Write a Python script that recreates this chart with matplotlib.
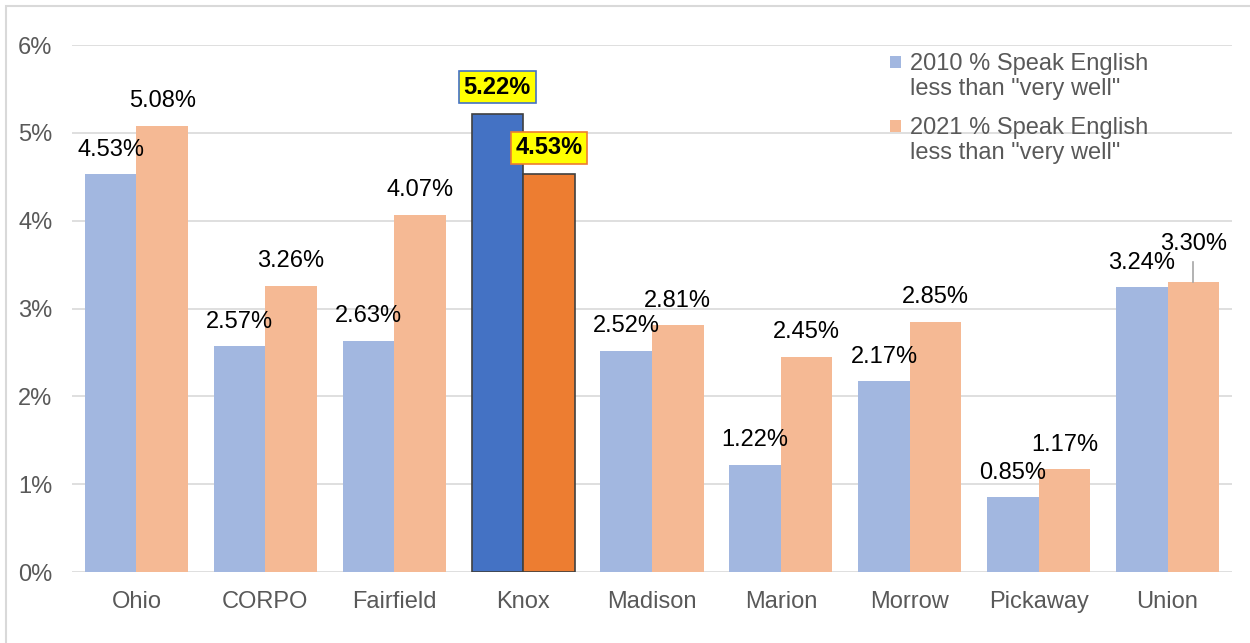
import numpy as np
import matplotlib.pyplot as plt
from matplotlib.patches import Rectangle

plt.rcParams['font.family'] = ['Liberation Sans', 'DejaVu Sans']

# data
counties = ['Ohio', 'CORPO', 'Fairfield', 'Knox', 'Madison', 'Marion', 'Morrow', 'Pickaway', 'Union']
pct_2010 = [4.53, 2.57, 2.63, 5.22, 2.52, 1.22, 2.17, 0.85, 3.24]
pct_2021 = [5.08, 3.26, 4.07, 4.53, 2.81, 2.45, 2.85, 1.17, 3.30]
series_names = ['2010 % Speak English\nless than "very well"',
                '2021 % Speak English\nless than "very well"']
highlight = 'Knox'

C10 = '#A2B7E0'
C21 = '#F5B994'
C10_HI = '#4472C4'
C21_HI = '#ED7D31'
GRID = '#D9D9D9'
TXT = '#595959'
FS = 17

fig = plt.figure(figsize=(12.5, 6.43), dpi=100)
ax = fig.add_axes([0.0576, 0.1104, 0.928, 0.8196])

x = np.arange(len(counties))
w = 0.4
hi = counties.index(highlight)
col10 = [C10_HI if i == hi else C10 for i in range(len(counties))]
col21 = [C21_HI if i == hi else C21 for i in range(len(counties))]
ec = ['#404040' if i == hi else 'none' for i in range(len(counties))]

ax.bar(x - w/2, pct_2010, w, color=col10, edgecolor=ec, linewidth=1.2, zorder=3)
ax.bar(x + w/2, pct_2021, w, color=col21, edgecolor=ec, linewidth=1.2, zorder=3)

# data labels
for i in range(len(counties)):
    for xs, v, bc in ((x[i] - w/2, pct_2010[i], C10_HI), (x[i] + w/2, pct_2021[i], C21_HI)):
        if i == hi:
            ax.text(xs, v + 0.3, f'{v:.2f}%', ha='center', va='center', fontsize=FS,
                    fontweight='bold', color='black', zorder=5,
                    bbox=dict(boxstyle='square,pad=0.2', fc='#FFFF00', ec=bc, lw=1.2))
        elif counties[i] == 'Union' and xs > x[i]:
            ax.text(xs, v + 0.43, f'{v:.2f}%', ha='center', va='center', fontsize=FS,
                    color='black', zorder=5)
            ax.plot([xs, xs], [v, v + 0.23], color='#A6A6A6', lw=1.2, zorder=4)
        else:
            ax.text(xs, v + 0.28, f'{v:.2f}%', ha='center', va='center', fontsize=FS,
                    color='black', zorder=5)

ax.set_ylim(0, 6)
ax.set_xlim(-0.5, len(counties) - 0.5)
ax.set_yticks(np.arange(0, 7, 1))
ax.set_yticklabels([f'{t}%' for t in range(7)])
ax.set_xticks(x)
ax.set_xticklabels(counties)
ax.tick_params(axis='both', length=0, labelsize=FS, colors=TXT)
ax.tick_params(axis='x', pad=14)
ax.tick_params(axis='y', pad=14)
ax.grid(axis='y', color=GRID, lw=1.2, zorder=0)
ax.set_axisbelow(True)
for s in ax.spines.values():
    s.set_visible(False)

# legend (square aligned with the first text line, as in the original)
for name, c, ytxt, ysq in ((series_names[0], C10, 0.940, 0.9677),
                           (series_names[1], C21, 0.8187, 0.8463)):
    ax.add_patch(Rectangle((0.7055, ysq - 0.0105), 0.0095, 0.021, transform=ax.transAxes,
                           fc=c, ec='none', clip_on=False, zorder=6))
    ax.text(0.7224, ytxt, name, transform=ax.transAxes, ha='left', va='center',
            fontsize=FS, color=TXT, linespacing=1.18, zorder=6)

# chart border
fig.patches.append(Rectangle((0.005, -0.01), 1.2, 1.0, transform=fig.transFigure,
                             fill=False, ec=GRID, lw=1.5))

plt.savefig('out.png', dpi=100)
